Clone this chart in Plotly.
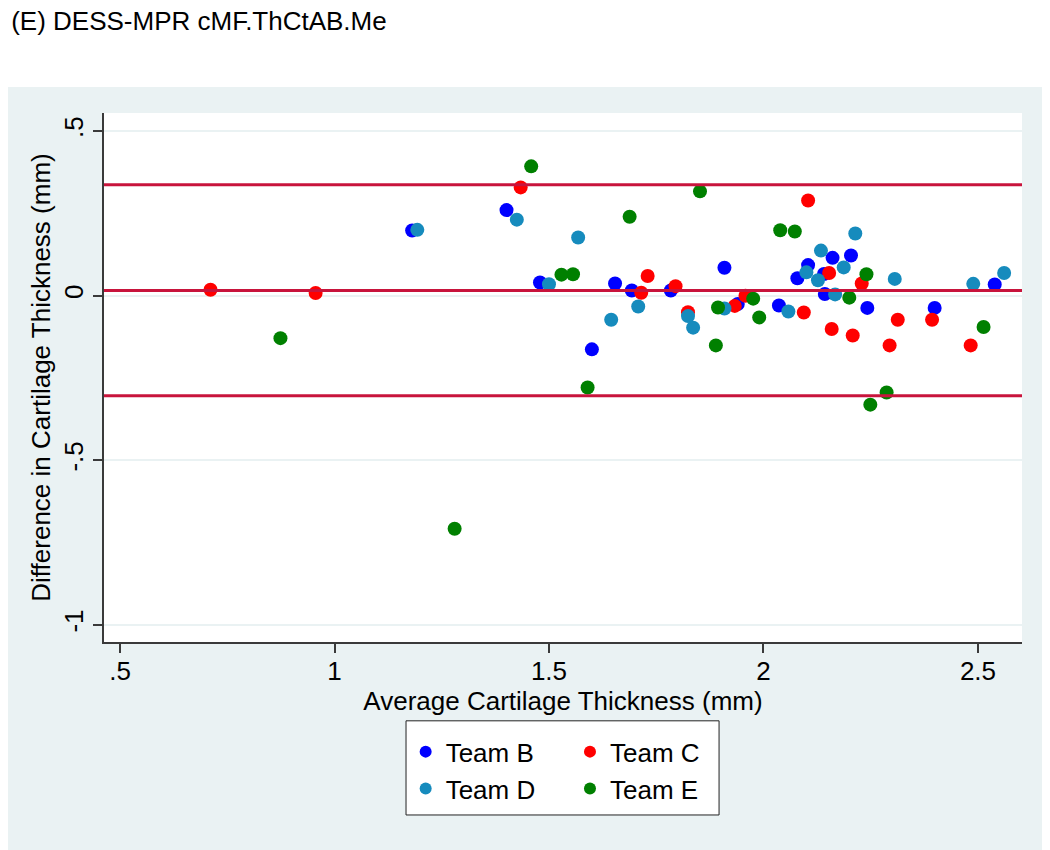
import plotly.graph_objects as go

# Bland-Altman data (x = average, y = difference, mm)
team_b_avg = [1.181, 1.401, 1.479, 1.600, 1.654, 1.693, 1.784, 1.909, 1.940, 2.036,
              2.079, 2.104, 2.141, 2.143, 2.161, 2.204, 2.242, 2.399, 2.539]
team_b_diff = [0.198, 0.260, 0.040, -0.163, 0.037, 0.016, 0.016, 0.085, -0.025, -0.030,
               0.053, 0.093, 0.066, 0.005, 0.115, 0.122, -0.037, -0.037, 0.034]

team_c_avg = [0.711, 0.956, 1.434, 1.715, 1.730, 1.795, 1.824, 1.933, 1.958, 2.094,
              2.104, 2.153, 2.159, 2.208, 2.229, 2.294, 2.313, 2.393, 2.483]
team_c_diff = [0.018, 0.008, 0.329, 0.009, 0.060, 0.029, -0.050, -0.031, 0.000, -0.051,
               0.289, 0.069, -0.101, -0.121, 0.037, -0.151, -0.073, -0.073, -0.151]

team_d_avg = [1.193, 1.425, 1.500, 1.568, 1.645, 1.708, 1.824, 1.836, 1.909, 2.058,
              2.100, 2.127, 2.134, 2.167, 2.187, 2.214, 2.306, 2.489, 2.561]
team_d_diff = [0.200, 0.231, 0.035, 0.177, -0.073, -0.033, -0.062, -0.097, -0.039, -0.048,
               0.071, 0.047, 0.137, 0.004, 0.086, 0.189, 0.051, 0.036, 0.069]

team_e_avg = [0.874, 1.280, 1.4585, 1.529, 1.556, 1.590, 1.688, 1.852, 1.889, 1.894,
              1.976, 1.990, 2.039, 2.073, 2.200, 2.240, 2.249, 2.287, 2.513]
team_e_diff = [-0.129, -0.708, 0.393, 0.064, 0.065, -0.279, 0.240, 0.317, -0.151, -0.036,
               -0.009, -0.066, 0.199, 0.195, -0.006, 0.065, -0.331, -0.294, -0.095]

# mean difference and limits of agreement
mean_diff = 0.016
upper_loa = 0.337
lower_loa = -0.304

x_ticks = [0.5, 1, 1.5, 2, 2.5]
x_ticklabels = [".5", "1", "1.5", "2", "2.5"]
y_ticks = [-1, -0.5, 0, 0.5]
y_ticklabels = ["-1", "-.5", "0", ".5"]

font = "Liberation Sans, Arial, sans-serif"
bg = "#eaf2f3"
axcol = "#3a3a3a"

fig = go.Figure()
teams = [
    ("Team B", team_b_avg, team_b_diff, "#0000ff", "legend"),
    ("Team C", team_c_avg, team_c_diff, "#ff0000", "legend2"),
    ("Team D", team_d_avg, team_d_diff, "#168bbd", "legend"),
    ("Team E", team_e_avg, team_e_diff, "#008000", "legend2"),
]
for name, xs, ys, col, leg in teams:
    fig.add_trace(go.Scatter(x=xs, y=ys, mode="markers", name=name, legend=leg,
                             marker=dict(color=col, size=14, line=dict(width=0))))

for v in [upper_loa, mean_diff, lower_loa]:
    fig.add_hline(y=v, line=dict(color="#c8143c", width=3), layer="above")

# grey page background below the white title strip, legend frame
fig.add_shape(type="rect", xref="paper", yref="paper", x0=-0.2, x1=1.1, y0=1.049, y1=1.4,
              fillcolor="white", line=dict(width=0), layer="below")
fig.add_shape(type="rect", xref="paper", yref="paper", x0=0.329, x1=0.670, y0=-0.327, y1=-0.149,
              fillcolor="white", line=dict(color="#222222", width=1), layer="below")

# the page puts the figure 8px in from the top-left corner
fig.update_layout(
    width=1042, height=842, autosize=False,
    margin=dict(l=96, r=28, t=105, b=208),
    paper_bgcolor=bg, plot_bgcolor="white",
    font=dict(family=font, size=26, color="black"),
    title=dict(text="(E) DESS-MPR cMF.ThCtAB.Me", xref="container", yref="container",
               x=0.003, xanchor="left", y=0.995, yanchor="top", pad=dict(l=0, t=0),
               font=dict(family=font, size=26, color="black")),
    legend=dict(x=0.3286, y=-0.163, xanchor="left", yanchor="top", bgcolor="rgba(0,0,0,0)",
                borderwidth=0, itemsizing="constant", font=dict(size=26)),
    legend2=dict(x=0.5076, y=-0.163, xanchor="left", yanchor="top", bgcolor="rgba(0,0,0,0)",
                 borderwidth=0, itemsizing="constant", font=dict(size=26)),
    showlegend=True,
)
fig.update_xaxes(range=[0.4627, 2.6026], tickvals=x_ticks, ticktext=x_ticklabels,
                 showgrid=False, zeroline=False, showline=True, linecolor=axcol, linewidth=2,
                 ticks="outside", ticklen=9, tickcolor=axcol, tickwidth=1.5,
                 ticklabelstandoff=-4,
                 title=dict(text="Average Cartilage Thickness (mm)", standoff=0,
                            font=dict(size=26)))
fig.update_yaxes(range=[-1.052, 0.555], tickvals=y_ticks, ticktext=y_ticklabels, tickangle=-90,
                 showgrid=True, gridcolor=bg, gridwidth=2, zeroline=False,
                 showline=True, linecolor=axcol, linewidth=2,
                 ticks="outside", ticklen=9, tickcolor=axcol, tickwidth=1.5,
                 ticklabelstandoff=0,
                 title=dict(text="Difference in Cartilage Thickness (mm)", standoff=0,
                            font=dict(size=26)))

fig.write_html("out.html")
